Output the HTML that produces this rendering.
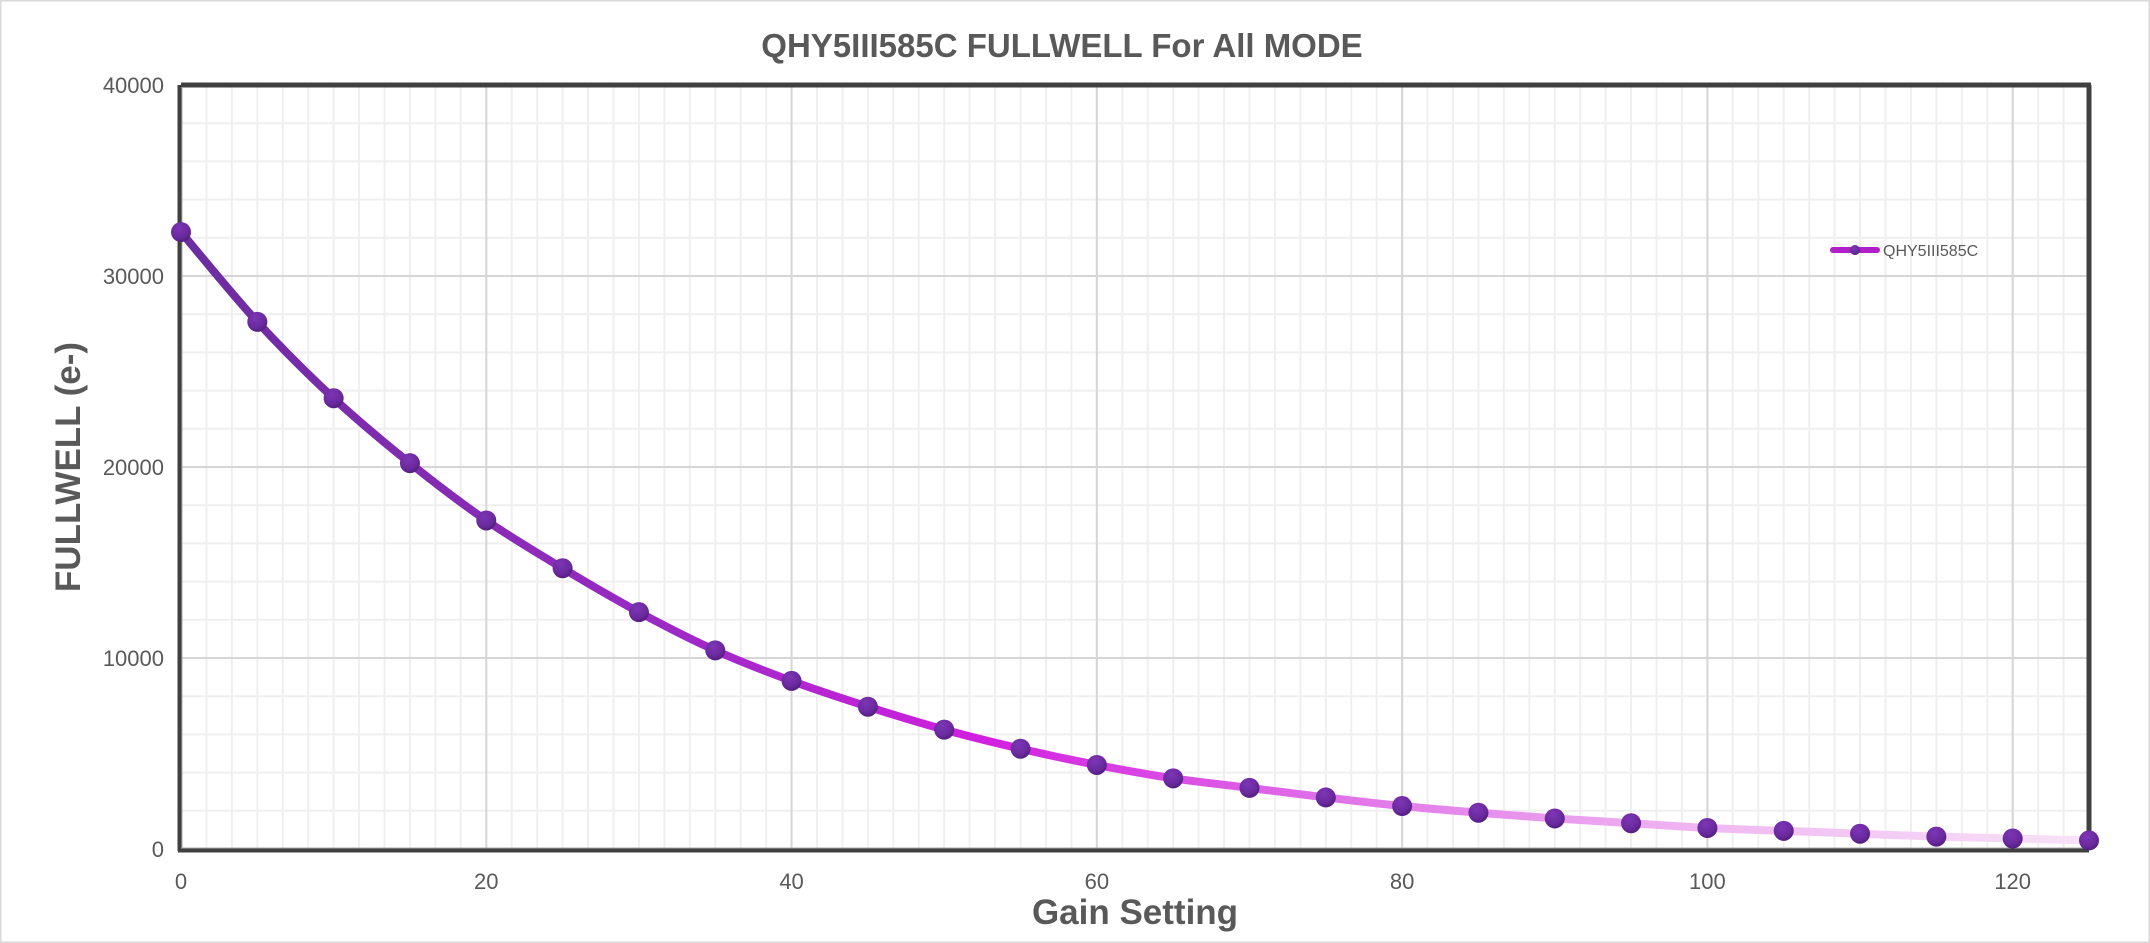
<!DOCTYPE html>
<html><head><meta charset="utf-8"><style>
body{margin:0;background:#fff;}
svg{display:block;font-family:"Liberation Sans",sans-serif;}
</style></head><body>
<svg id="chart" width="2150" height="943" viewBox="0 0 2150 943" xmlns="http://www.w3.org/2000/svg">
<defs>
<linearGradient id="lineGrad" gradientUnits="userSpaceOnUse" x1="181" y1="0" x2="2089" y2="0">
<stop offset="0" stop-color="#6a2d9e"/>
<stop offset="0.25" stop-color="#9a2ac4"/>
<stop offset="0.42" stop-color="#d21fe0"/>
<stop offset="0.6" stop-color="#e070e8"/>
<stop offset="0.8" stop-color="#f0b8f2"/>
<stop offset="1" stop-color="#f8e2f8"/>
</linearGradient>
<radialGradient id="dotGrad" cx="0.4" cy="0.3" r="0.8">
<stop offset="0" stop-color="#7d35b5"/>
<stop offset="0.6" stop-color="#6a2a9e"/>
<stop offset="1" stop-color="#4a1a70"/>
</radialGradient>
</defs>
<rect x="0.5" y="0.5" width="2149" height="942" fill="#fff" stroke="#d9d9d9" stroke-width="2"/>
<text x="1062" y="57" text-anchor="middle" font-size="33" font-weight="bold" fill="#595959">QHY5III585C FULLWELL For All MODE</text>
<g id="grid"></g>
<g id="ticks"></g>
<g id="frame"></g>
<path id="series" fill="none" stroke="url(#lineGrad)" stroke-width="8" stroke-linejoin="round" stroke-linecap="round"/>
<g id="dots"></g>
<text transform="translate(80,467) rotate(-90)" text-anchor="middle" font-size="35" font-weight="bold" fill="#595959">FULLWELL (e-)</text>
<text x="1135" y="924" text-anchor="middle" font-size="35" font-weight="bold" fill="#595959">Gain Setting</text>
<g>
<line x1="1833" y1="250" x2="1877" y2="250" stroke="#b020c8" stroke-width="6" stroke-linecap="round"/>
<circle cx="1855" cy="250" r="5" fill="url(#dotGrad)"/>
<text x="1883" y="256" font-size="16" fill="#595959">QHY5III585C</text>
</g>
</svg>
<script>
const gains=[0,5,10,15,20,25,30,35,40,45,50,55,60,65,70,75,80,85,90,95,100,105,110,115,120,125];
const fullwell=[32300,27600,23600,20200,17200,14700,12400,10400,8800,7450,6250,5250,4400,3700,3200,2700,2250,1900,1600,1350,1100,950,800,650,550,450];
const xTicks=[0,20,40,60,80,100,120];
const yTicks=[0,10000,20000,30000,40000];
const X0=181,X1=2089,Y0=849,Y1=85,XMAX=125,YMAX=40000;
const sx=v=>X0+(v/XMAX)*(X1-X0);
const sy=v=>Y0-(v/YMAX)*(Y0-Y1);
const NS="http://www.w3.org/2000/svg";
function mk(tag,attrs,parent){const e=document.createElementNS(NS,tag);for(const k in attrs)e.setAttribute(k,attrs[k]);parent.appendChild(e);return e;}
const grid=document.getElementById('grid');
for(let v=0;v<=XMAX+1e-6;v+=20/12){const l=mk('line',{x1:sx(v),x2:sx(v),y1:Y1,y2:Y0,stroke:'#efefef','stroke-width':2},grid);

}
for(let v=0;v<=YMAX;v+=2000){const l=mk('line',{x1:X0,x2:X1,y1:sy(v),y2:sy(v),stroke:'#efefef','stroke-width':2},grid);

}
const tk=document.getElementById('ticks');
xTicks.forEach(v=>{const l=mk('line',{x1:sx(v),x2:sx(v),y1:Y1,y2:Y0,stroke:'#d6d6d6','stroke-width':2},grid);


const t=mk('text',{x:sx(v),y:Y0+40,'text-anchor':'middle','font-size':22,fill:'#595959'},tk);t.textContent=v;

});
yTicks.forEach(v=>{const l=mk('line',{x1:X0,x2:X1,y1:sy(v),y2:sy(v),stroke:'#d6d6d6','stroke-width':2},grid);


const t=mk('text',{x:164,y:sy(v)+8,'text-anchor':'end','font-size':22,fill:'#595959'},tk);t.textContent=v;

});
const fr=document.getElementById('frame');
mk('line',{x1:X0,y1:Y1,x2:X1+2,y2:Y1,stroke:'#404040','stroke-width':5},fr);
mk('line',{x1:X1,y1:Y1,x2:X1,y2:Y0,stroke:'#404040','stroke-width':5},fr);
mk('line',{x1:X0-1,y1:Y1,x2:X0-1,y2:Y0+2,stroke:'#404040','stroke-width':5},fr);
mk('line',{x1:X0+1,y1:Y1+2,x2:X0+1,y2:Y0,stroke:'#aaa','stroke-width':1},fr);
mk('line',{x1:X0-3,y1:Y0+1,x2:X1,y2:Y0+1,stroke:'#404040','stroke-width':5},fr);
mk('line',{x1:X0,y1:Y0-1,x2:X1,y2:Y0-1,stroke:'#aaa','stroke-width':1},fr);
// smooth path (Catmull-Rom)
const pts=gains.map((g,i)=>[sx(g),sy(fullwell[i])]);
let d='M'+pts[0][0]+','+pts[0][1];
for(let i=0;i<pts.length-1;i++){const p0=pts[i-1]||pts[i],p1=pts[i],p2=pts[i+1],p3=pts[i+2]||p2;
d+=' C'+(p1[0]+(p2[0]-p0[0])/6)+','+(p1[1]+(p2[1]-p0[1])/6)+' '+(p2[0]-(p3[0]-p1[0])/6)+','+(p2[1]-(p3[1]-p1[1])/6)+' '+p2[0]+','+p2[1];}
document.getElementById('series').setAttribute('d',d);
const dots=document.getElementById('dots');
pts.forEach(p=>{const c=mk('circle',{cx:p[0],cy:p[1],r:10,fill:'url(#dotGrad)'},dots);

});
</script>
</body></html>
